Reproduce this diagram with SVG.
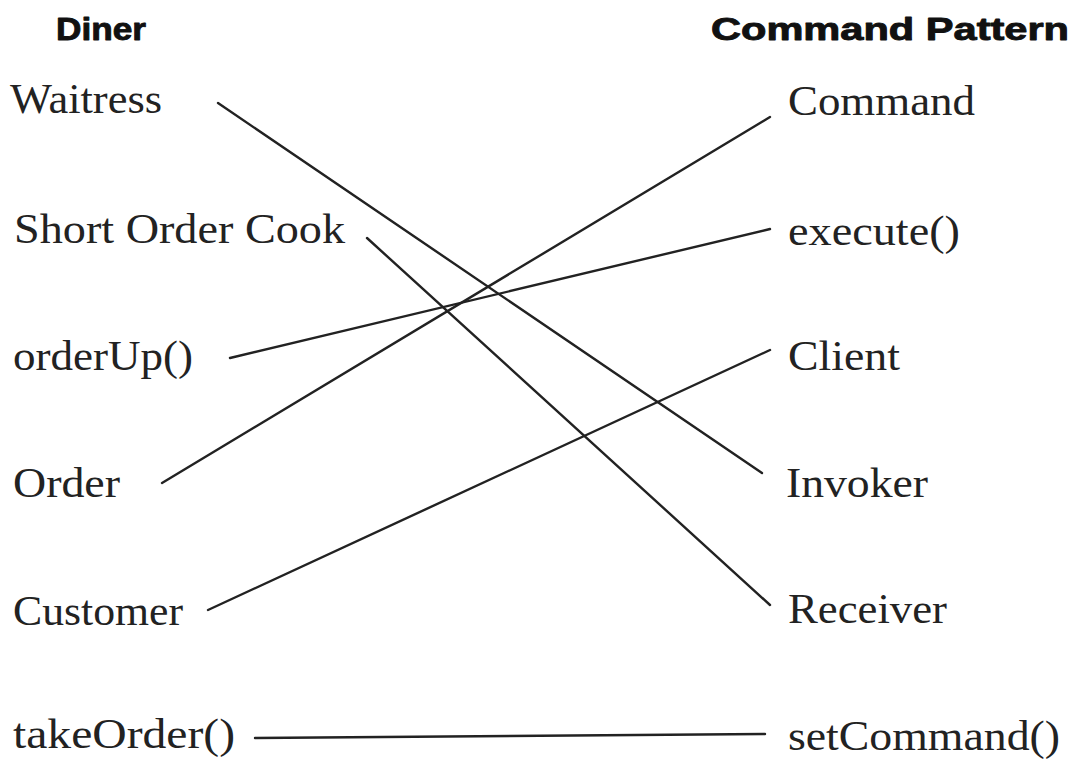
<svg xmlns="http://www.w3.org/2000/svg" width="1086" height="763" viewBox="0 0 1086 763">
<style>
.h{font-family:"Liberation Sans",Arial,sans-serif;font-weight:bold;font-size:31px;fill:#111;stroke:#111;stroke-width:0.9;stroke-linejoin:round}
.t{font-family:"Liberation Serif","Times New Roman",serif;font-size:42px;fill:#222}
.c line{stroke:#222;stroke-width:2.4;stroke-linecap:round}
</style>
<rect width="1086" height="763" fill="#fff"/>
<g id="hdr-diner"><text class="h" x="56" y="40" textLength="90" lengthAdjust="spacingAndGlyphs">Diner</text></g>
<g id="hdr-pattern"><text class="h" x="711" y="40" textLength="358" lengthAdjust="spacingAndGlyphs">Command Pattern</text></g>
<g id="n-waitress"><text class="t" x="10" y="113" textLength="152" lengthAdjust="spacingAndGlyphs">Waitress</text></g>
<g id="n-cook"><text class="t" x="14" y="243" textLength="331" lengthAdjust="spacingAndGlyphs">Short Order Cook</text></g>
<g id="n-orderup"><text class="t" x="13" y="370" textLength="180" lengthAdjust="spacingAndGlyphs">orderUp()</text></g>
<g id="n-order"><text class="t" x="13" y="497" textLength="107" lengthAdjust="spacingAndGlyphs">Order</text></g>
<g id="n-customer"><text class="t" x="13" y="625" textLength="170" lengthAdjust="spacingAndGlyphs">Customer</text></g>
<g id="n-takeorder"><text class="t" x="13" y="748" textLength="222" lengthAdjust="spacingAndGlyphs">takeOrder()</text></g>
<g id="n-command"><text class="t" x="788" y="115" textLength="187" lengthAdjust="spacingAndGlyphs">Command</text></g>
<g id="n-execute"><text class="t" x="788" y="245" textLength="172" lengthAdjust="spacingAndGlyphs">execute()</text></g>
<g id="n-client"><text class="t" x="788" y="370" textLength="112" lengthAdjust="spacingAndGlyphs">Client</text></g>
<g id="n-invoker"><text class="t" x="786" y="497" textLength="142" lengthAdjust="spacingAndGlyphs">Invoker</text></g>
<g id="n-receiver"><text class="t" x="788" y="623" textLength="159" lengthAdjust="spacingAndGlyphs">Receiver</text></g>
<g id="n-setcommand"><text class="t" x="788" y="750" textLength="272" lengthAdjust="spacingAndGlyphs">setCommand()</text></g>
<g id="connectors" class="c">
<line x1="218" y1="103" x2="762" y2="473"/>
<line x1="367" y1="238" x2="770" y2="605"/>
<line x1="230" y1="358" x2="770" y2="229"/>
<line x1="162" y1="483" x2="770" y2="117"/>
<line x1="208" y1="610" x2="770" y2="350"/>
<line x1="255" y1="738" x2="765" y2="734"/>
</g>
</svg>
